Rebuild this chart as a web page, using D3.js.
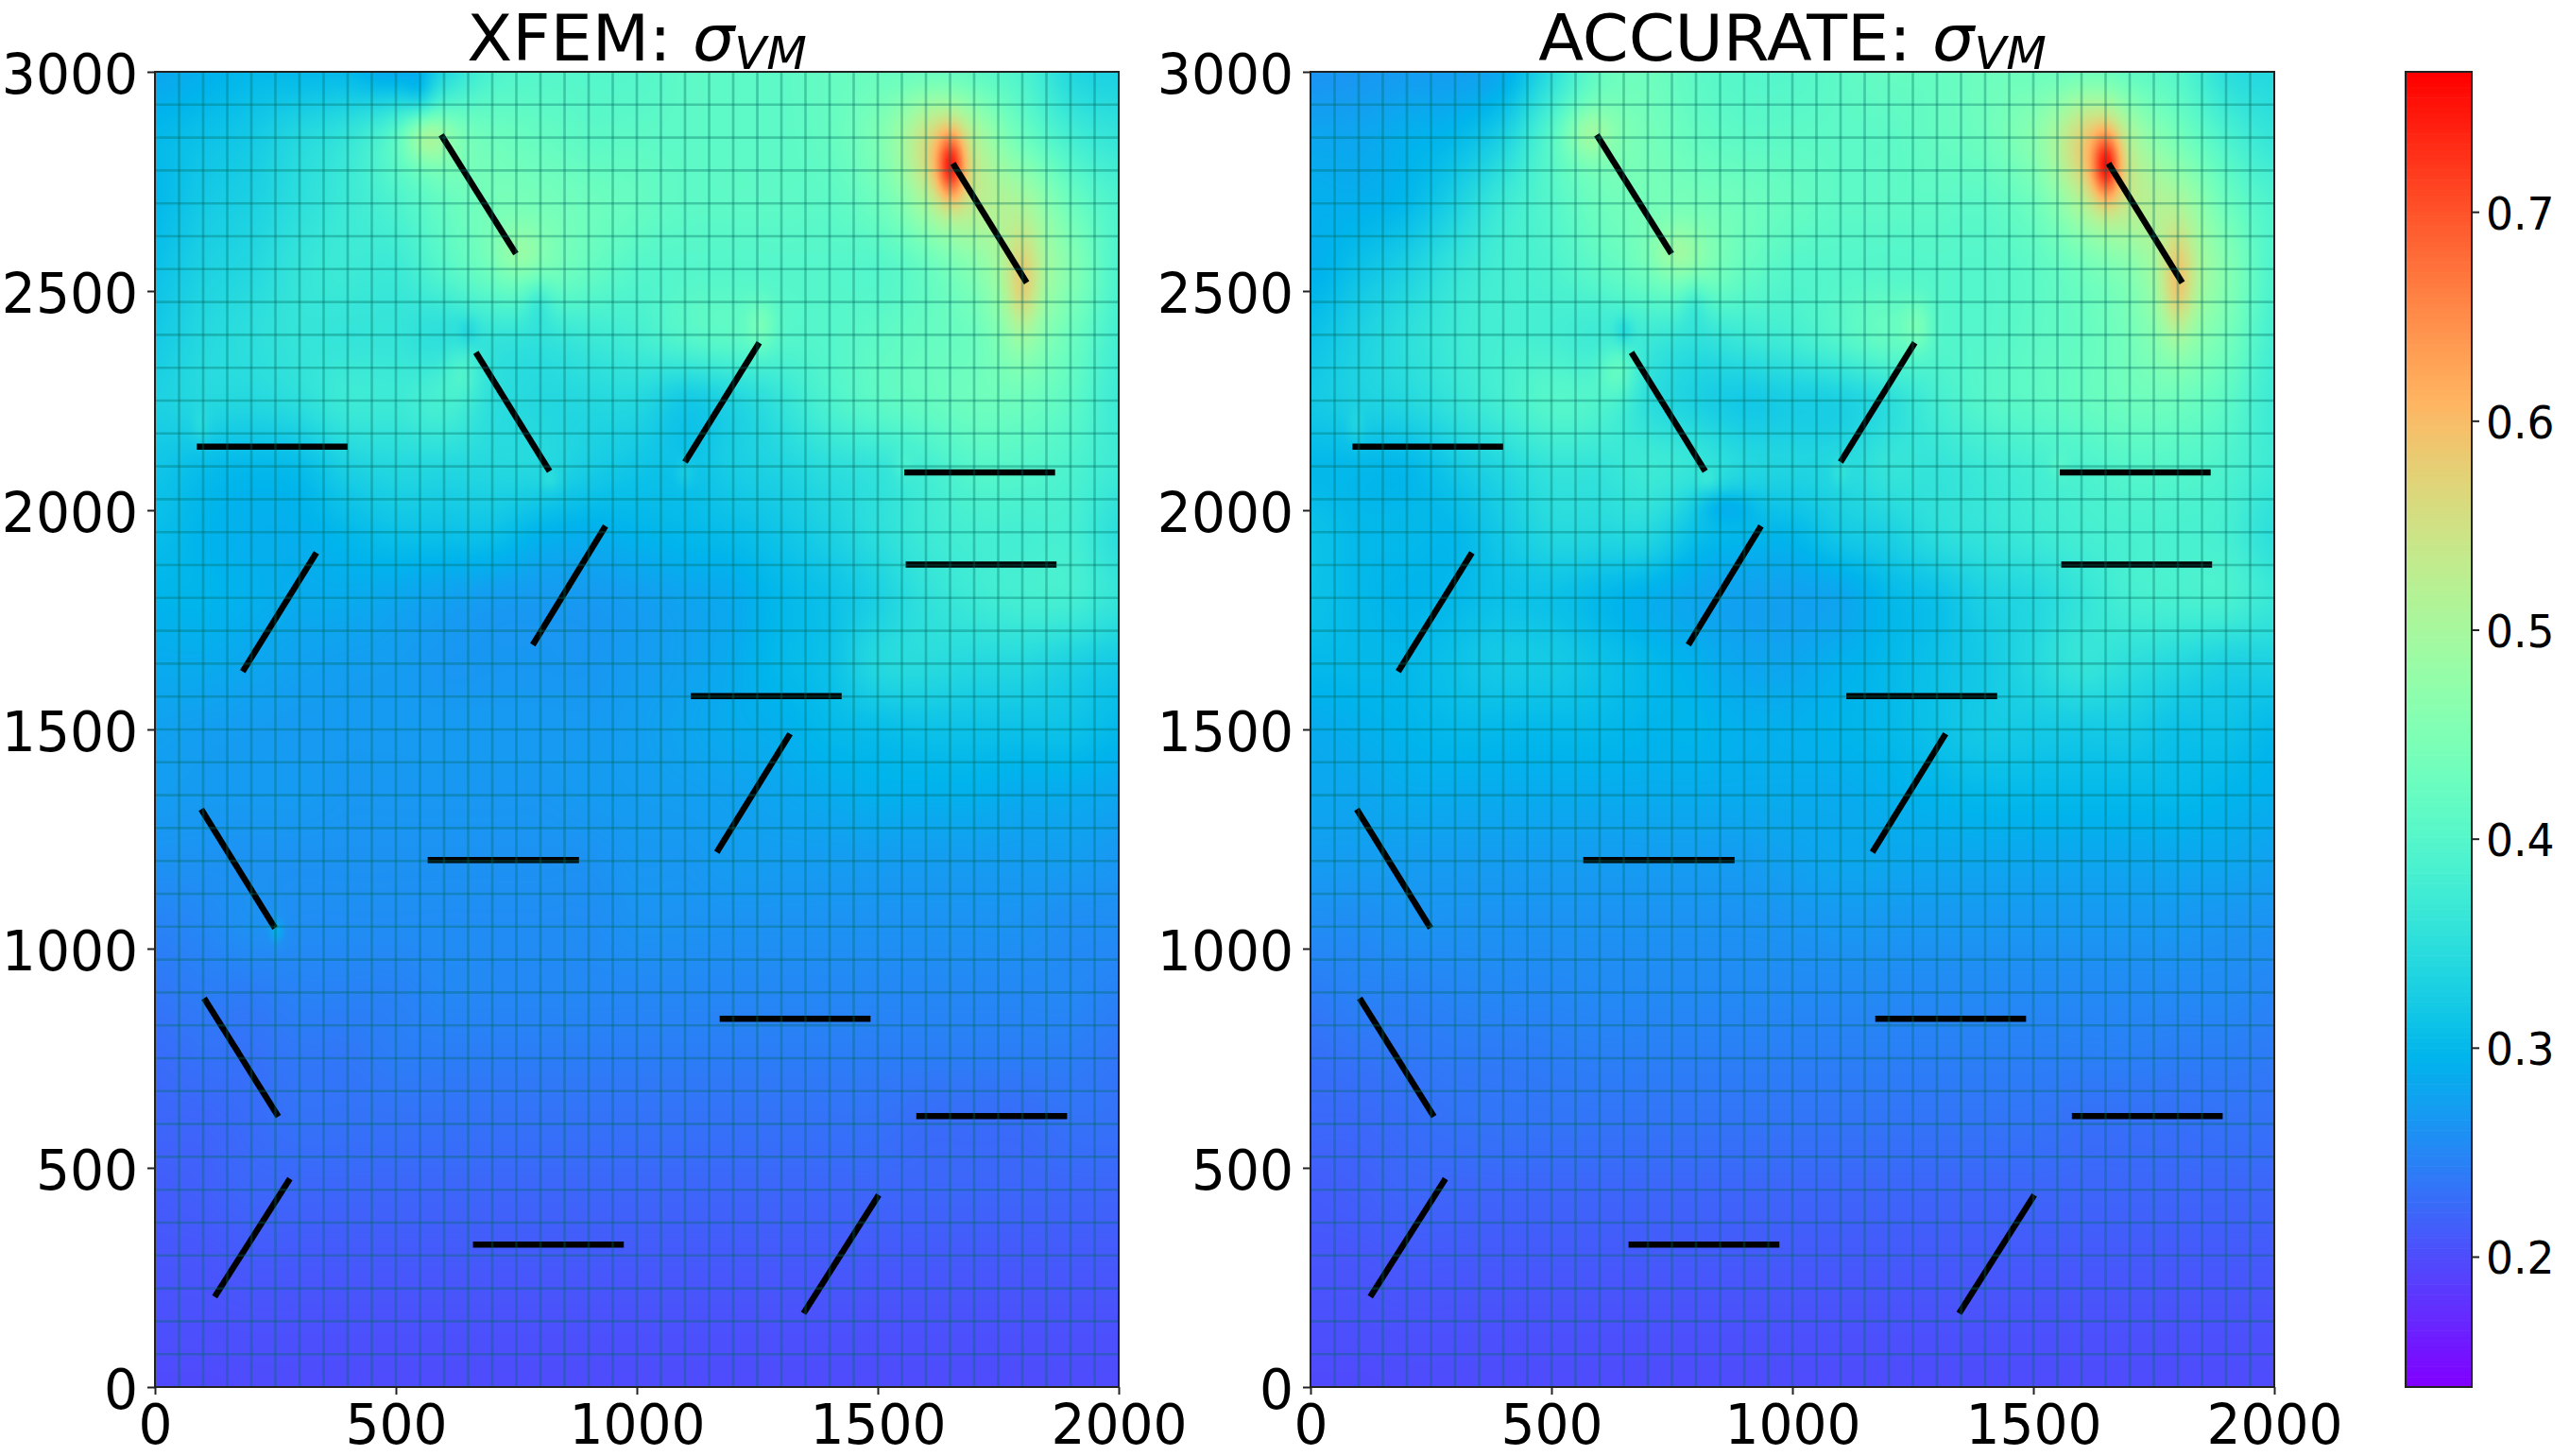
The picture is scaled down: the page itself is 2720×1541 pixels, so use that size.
<!DOCTYPE html>
<html>
<head>
<meta charset="utf-8">
<script src="https://cdn.jsdelivr.net/npm/d3@7"></script>
<style>
html,body{margin:0;padding:0;background:#fff;}
svg{display:block;}
text{font-family:"DejaVu Sans";fill:#000;}
</style>
</head>
<body>
<svg id="fig" width="2720" height="1541"></svg>
<script>
// ---- data ----
const titles = ["XFEM: ", "ACCURATE: "];
const xTicks = [0, 500, 1000, 1500, 2000];
const yTicks = [0, 500, 1000, 1500, 2000, 2500, 3000];
const cbTicks = [0.2, 0.3, 0.4, 0.5, 0.6, 0.7];
const valueDomain = [0.1376, 0.767];
const domainX = [0, 2000];
const domainY = [0, 3000];
const meshCols = 40, meshRows = 40;

// crack segments [x1, y1, x2, y2]
const cracks = [
  [594,2856,749,2585],[1656,2791,1809,2519],[666,2360,819,2089],[1100,2110,1254,2382],
  [87,2145,400,2145],[1555,2086,1868,2086],[1558,1876,1871,1876],[182,1632,335,1903],
  [784,1693,935,1964],[1112,1576,1425,1576],[1166,1220,1318,1490],[566,1202,880,1202],
  [96,1318,249,1047],[102,887,256,617],[1172,840,1485,840],[1580,618,1893,618],
  [124,206,280,475],[660,325,973,325],[1346,168,1502,438]
];

// nodal stress estimates: rows from y=3000 to y=0 every 150, columns x=0..2000 every 100
const xfemField = [
[.280,.290,.300,.300,.300,.285,.340,.390,.400,.400,.400,.410,.410,.410,.420,.425,.420,.410,.390,.340,.330],
[.300,.310,.320,.340,.360,.400,.440,.430,.420,.410,.410,.410,.410,.410,.420,.450,.500,.490,.430,.380,.360],
[.300,.320,.330,.350,.370,.390,.420,.440,.440,.430,.420,.410,.410,.410,.410,.430,.470,.510,.500,.430,.390],
[.310,.330,.340,.360,.370,.370,.400,.430,.440,.420,.400,.400,.400,.400,.400,.400,.420,.460,.510,.460,.390],
[.320,.340,.350,.360,.360,.360,.350,.360,.360,.370,.380,.400,.410,.400,.400,.410,.420,.430,.470,.430,.380],
[.330,.340,.340,.350,.370,.370,.380,.350,.340,.340,.340,.320,.335,.360,.390,.410,.420,.430,.430,.410,.370],
[.315,.305,.300,.305,.330,.340,.340,.340,.340,.325,.315,.310,.325,.335,.350,.360,.380,.400,.400,.390,.370],
[.305,.295,.290,.290,.300,.310,.310,.310,.295,.290,.295,.300,.305,.315,.330,.350,.370,.380,.380,.380,.350],
[.295,.295,.290,.285,.285,.280,.275,.270,.268,.268,.272,.278,.285,.300,.310,.330,.355,.370,.380,.380,.360],
[.285,.285,.280,.275,.272,.270,.265,.265,.265,.265,.270,.275,.285,.300,.310,.340,.345,.340,.340,.330,.320],
[.275,.272,.270,.268,.268,.268,.268,.268,.268,.268,.272,.278,.285,.290,.300,.305,.310,.310,.310,.310,.300],
[.270,.268,.268,.268,.265,.265,.265,.265,.265,.268,.270,.272,.275,.280,.285,.290,.290,.290,.285,.285,.280],
[.260,.260,.260,.260,.260,.260,.260,.260,.260,.260,.265,.265,.270,.270,.270,.270,.270,.270,.270,.270,.265],
[.245,.250,.258,.255,.255,.255,.255,.255,.255,.255,.260,.260,.260,.260,.260,.260,.260,.260,.260,.255,.255],
[.235,.240,.240,.245,.245,.245,.250,.250,.250,.250,.250,.250,.250,.250,.250,.250,.250,.250,.250,.250,.245],
[.225,.230,.230,.235,.235,.240,.240,.240,.240,.240,.240,.240,.240,.240,.240,.240,.240,.240,.240,.240,.235],
[.220,.220,.225,.230,.230,.230,.230,.230,.230,.230,.230,.230,.230,.230,.230,.230,.225,.225,.225,.230,.230],
[.212,.215,.220,.220,.220,.220,.220,.220,.220,.220,.220,.220,.220,.220,.220,.220,.220,.220,.220,.220,.220],
[.207,.207,.210,.210,.210,.210,.210,.210,.210,.210,.210,.210,.210,.210,.210,.210,.210,.210,.210,.210,.210],
[.202,.202,.203,.203,.203,.203,.203,.203,.203,.203,.203,.203,.203,.203,.203,.203,.203,.203,.203,.203,.203],
[.197,.197,.198,.198,.198,.198,.198,.198,.198,.198,.198,.198,.198,.198,.198,.198,.198,.198,.198,.198,.198]
];
const accurateField = [
[.262,.265,.270,.272,.285,.350,.420,.430,.410,.400,.400,.410,.420,.420,.430,.430,.420,.410,.400,.350,.340],
[.280,.280,.290,.300,.330,.400,.440,.440,.420,.410,.410,.410,.410,.420,.430,.460,.500,.480,.440,.390,.360],
[.290,.290,.300,.330,.370,.400,.430,.440,.440,.430,.420,.410,.410,.410,.410,.430,.470,.510,.500,.430,.390],
[.290,.310,.330,.360,.380,.390,.410,.430,.450,.420,.400,.400,.400,.400,.400,.410,.430,.460,.510,.460,.390],
[.310,.330,.350,.370,.380,.380,.370,.370,.360,.370,.380,.400,.420,.400,.400,.410,.420,.440,.470,.440,.380],
[.320,.330,.340,.360,.380,.400,.390,.350,.330,.320,.325,.330,.350,.380,.400,.410,.420,.430,.430,.410,.370],
[.300,.300,.300,.320,.340,.360,.360,.370,.360,.340,.335,.340,.360,.360,.370,.380,.390,.400,.400,.390,.370],
[.310,.300,.300,.300,.320,.340,.340,.340,.310,.300,.300,.320,.330,.350,.360,.370,.380,.385,.385,.380,.350],
[.310,.300,.295,.300,.310,.310,.300,.290,.280,.275,.275,.280,.300,.310,.330,.340,.360,.380,.385,.385,.365],
[.300,.300,.300,.310,.320,.320,.310,.300,.290,.280,.280,.290,.300,.310,.320,.340,.360,.350,.340,.330,.330],
[.285,.290,.295,.300,.300,.300,.300,.295,.295,.290,.290,.295,.300,.310,.320,.320,.320,.320,.310,.310,.300],
[.280,.280,.285,.285,.285,.285,.285,.285,.285,.285,.285,.285,.290,.295,.300,.300,.300,.300,.300,.295,.290],
[.270,.270,.270,.270,.270,.270,.270,.270,.270,.270,.275,.280,.280,.280,.280,.280,.280,.280,.280,.280,.275],
[.255,.255,.260,.260,.260,.260,.260,.260,.260,.260,.262,.265,.265,.265,.265,.265,.265,.265,.265,.262,.260],
[.240,.245,.245,.248,.250,.250,.252,.252,.252,.252,.252,.252,.252,.252,.252,.252,.252,.252,.252,.252,.248],
[.228,.232,.235,.238,.238,.240,.242,.242,.242,.242,.242,.242,.242,.242,.242,.242,.242,.242,.240,.240,.238],
[.222,.222,.226,.230,.232,.232,.232,.232,.232,.232,.232,.232,.232,.232,.232,.232,.228,.228,.228,.230,.230],
[.212,.215,.220,.220,.220,.220,.220,.220,.220,.220,.220,.220,.220,.220,.220,.220,.220,.220,.220,.220,.220],
[.207,.207,.210,.210,.210,.210,.210,.210,.210,.210,.210,.210,.210,.210,.210,.210,.210,.210,.210,.210,.210],
[.202,.202,.203,.203,.203,.203,.203,.203,.203,.203,.203,.203,.203,.203,.203,.203,.203,.203,.203,.203,.203],
[.197,.197,.198,.198,.198,.198,.198,.198,.198,.198,.198,.198,.198,.198,.198,.198,.198,.198,.198,.198,.198]
];
// local features near crack tips: [x, y, change, radiusX, radiusY]
const xfemSpots = [
  [1652,2785,.17,28,75],[1635,2800,.075,70,140],[1800,2515,.075,34,110],
  [565,2850,.07,48,55],[755,2590,.035,50,60],[1258,2420,.035,28,55],[640,2320,.03,40,60],
  [550,2950,-.03,30,60],[797,2477,-.03,30,55],[650,2408,-.02,20,35],[252,1040,.03,14,25],
  [95,2190,.015,18,40],[820,2070,.015,20,25],[1100,2085,.015,20,30],[1555,2100,.015,20,30]
];
const accurateSpots = [
  [1652,2785,.17,28,75],[1630,2810,.09,75,150],[1800,2515,.085,34,120],
  [580,2860,.055,50,60],[755,2590,.04,50,60],[1258,2420,.035,28,55],[640,2320,.045,40,60],
  [797,2477,-.03,30,55],[650,2408,-.03,20,35],[860,2010,-.03,60,40],
  [95,2190,.015,18,40],[825,2070,.015,20,25],[1100,2085,.015,20,30],[1555,2100,.015,20,30]
];

// ---- layout ----
const panels = [
  {title: titles[0], left: 164, field: xfemField, spots: xfemSpots},
  {title: titles[1], left: 1387, field: accurateField, spots: accurateSpots}
];
const plotW = 1020, plotTop = 76, plotBottom = 1468;
const tickSqueeze = 0.96;
const ink = "#222";

// the matplotlib "rainbow" colormap
function rainbow(t){
  const r = Math.abs(2*t-0.5), g = Math.sin(Math.PI*t), b = Math.cos(Math.PI*t/2);
  return [r,g,Math.max(b,0)].map(v=>Math.round(255*Math.min(1,Math.max(0,v))));
}
const toUnit = d3.scaleLinear().domain(valueDomain).range([0,1]).clamp(true);
const css = c => `rgb(${c[0]},${c[1]},${c[2]})`;

function cr(a,b,c,d,t){
  return b + 0.5*t*(c-a + t*(2*a-5*b+4*c-d + t*(3*(b-c)+d-a)));
}
function sampleField(field, spots, x, y){
  const nc = field[0].length, nr = field.length;
  const fx = x/100, fy = (3000-y)/150;
  const i = Math.min(nc-2, Math.max(0,Math.floor(fx))), j = Math.min(nr-2, Math.max(0,Math.floor(fy)));
  const tx = fx-i, ty = fy-j;
  const rowVal = r => {
    const R = field[Math.max(0,Math.min(nr-1,r))];
    return cr(R[Math.max(0,i-1)],R[i],R[i+1],R[Math.min(nc-1,i+2)],tx);
  };
  let v = cr(rowVal(j-1),rowVal(j),rowVal(j+1),rowVal(j+2),ty);
  for (const s of spots){
    const dx=(x-s[0])/s[3], dy=(y-s[1])/s[4];
    const q=dx*dx+dy*dy;
    if(q<9) v += s[2]*Math.exp(-q);
  }
  return v;
}

const svg = d3.select("#fig");

function squeezed(sel, sx){
  sel.attr("transform", function(){
    return `translate(${+this.getAttribute("data-x")},${+this.getAttribute("data-y")}) scale(${sx},1)`;
  });
}

panels.forEach(p=>{
  const x = d3.scaleLinear().domain(domainX).range([p.left,p.left+plotW]);
  const y = d3.scaleLinear().domain(domainY).range([plotBottom,plotTop]);
  const g = svg.append("g");

  // heat field
  const W = plotW, H = plotBottom-plotTop;
  const cv = document.createElement("canvas"); cv.width=W; cv.height=H;
  const ctx = cv.getContext("2d");
  const im = ctx.createImageData(W,H);
  let k=0;
  for(let py=0;py<H;py++){
    const dy = y.invert(plotTop+py+.5);
    for(let px=0;px<W;px++){
      const dx = x.invert(p.left+px+.5);
      const c = rainbow(toUnit(sampleField(p.field,p.spots,dx,dy)));
      im.data[k++]=c[0];im.data[k++]=c[1];im.data[k++]=c[2];im.data[k++]=255;
    }
  }
  ctx.putImageData(im,0,0);
  g.append("image").attr("x",x(0)).attr("y",y(3000)).attr("width",W).attr("height",H)
    .attr("href",cv.toDataURL("image/png"));

  // cracks
  g.append("g").selectAll("line").data(cracks).join("line")
    .attr("x1",d=>x(d[0])).attr("y1",d=>y(d[1])).attr("x2",d=>x(d[2])).attr("y2",d=>y(d[3]))
    .attr("stroke","#000").attr("stroke-width",6.5);

  // mesh
  const mesh = g.append("g").attr("stroke","#006a60").attr("stroke-opacity",.34).attr("stroke-width",2.6);
  mesh.selectAll("line.v").data(d3.range(1,meshCols)).join("line").attr("class","v")
    .attr("x1",d=>x(d*2000/meshCols)).attr("x2",d=>x(d*2000/meshCols)).attr("y1",y(0)).attr("y2",y(3000));
  mesh.selectAll("line.h").data(d3.range(1,meshRows)).join("line").attr("class","h")
    .attr("y1",d=>y(d*3000/meshRows)).attr("y2",d=>y(d*3000/meshRows)).attr("x1",x(0)).attr("x2",x(2000));

  // frame
  g.append("rect").attr("x",x(0)).attr("y",y(3000)).attr("width",W).attr("height",H)
    .attr("fill","none").attr("stroke",ink).attr("stroke-width",2);

  // axes
  const ax = g.append("g").attr("transform",`translate(0,${plotBottom})`)
    .call(d3.axisBottom(x).tickValues(xTicks).tickSize(8).tickPadding(0).tickFormat(d3.format("d")));
  const ay = g.append("g").attr("transform",`translate(${p.left},0)`)
    .call(d3.axisLeft(y).tickValues(yTicks).tickSize(8).tickPadding(0).tickFormat(d3.format("d")));
  [ax,ay].forEach(a=>{
    a.select(".domain").remove();
    a.selectAll(".tick line").attr("stroke",ink).attr("stroke-width",2);
  });
  ax.selectAll(".tick text").attr("text-anchor","middle").attr("font-size",59)
    .attr("font-family","DejaVu Sans").attr("fill","#000")
    .attr("x",null).attr("y",null).attr("dy",null)
    .attr("data-x",0).attr("data-y",60).call(squeezed,tickSqueeze);
  ay.selectAll(".tick text").attr("text-anchor","end").attr("font-size",59)
    .attr("font-family","DejaVu Sans").attr("fill","#000")
    .attr("x",null).attr("y",null).attr("dy",null)
    .attr("data-x",-18).attr("data-y",22).call(squeezed,tickSqueeze);

  // title
  const t = g.append("text").attr("text-anchor","middle").attr("font-size",68)
    .attr("data-x",x(1000)).attr("data-y",64).call(squeezed,1.03);
  t.append("tspan").text(p.title);
  t.append("tspan").attr("font-style","italic").text("σ");
  t.append("tspan").attr("font-style","italic").attr("font-size",48).attr("dy",9).text("VM");
});

// colorbar
const cbLeft = 2546, cbW = 70;
const cy = d3.scaleLinear().domain(valueDomain).range([plotBottom,plotTop]);
const cb = svg.append("g");
const levels = d3.range(256).map(i=>valueDomain[0]+(valueDomain[1]-valueDomain[0])*i/255);
const lh = (plotBottom-plotTop)/256;
cb.append("g").selectAll("rect").data(levels).join("rect")
  .attr("x",cbLeft).attr("width",cbW)
  .attr("y",(d,i)=>cy(valueDomain[0]+(valueDomain[1]-valueDomain[0])*(i+1)/256))
  .attr("height",lh+.6)
  .attr("fill",d=>css(rainbow(toUnit(d))));
cb.append("rect").attr("x",cbLeft).attr("y",plotTop).attr("width",cbW).attr("height",plotBottom-plotTop)
  .attr("fill","none").attr("stroke",ink).attr("stroke-width",2);
const cax = cb.append("g").attr("transform",`translate(${cbLeft+cbW},0)`)
  .call(d3.axisRight(cy).tickValues(cbTicks).tickSize(8).tickPadding(0).tickFormat(d3.format(".1f")));
cax.select(".domain").remove();
cax.selectAll(".tick line").attr("stroke",ink).attr("stroke-width",2);
cax.selectAll(".tick text").attr("text-anchor","start").attr("font-size",48)
  .attr("font-family","DejaVu Sans").attr("fill","#000")
  .attr("x",null).attr("y",null).attr("dy",null)
  .attr("data-x",15).attr("data-y",18).call(squeezed,0.95);
</script>
</body>
</html>
